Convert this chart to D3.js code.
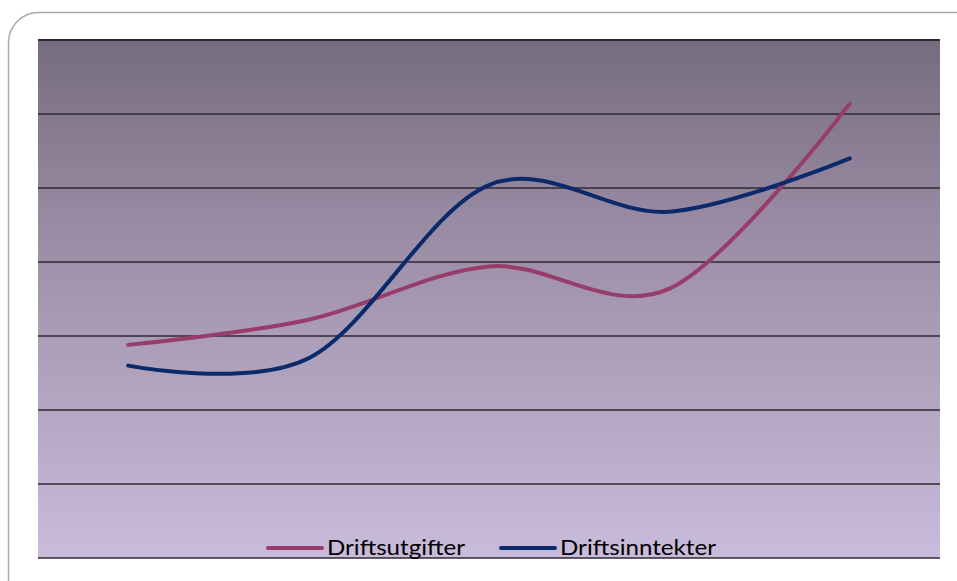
<!DOCTYPE html>
<html><head><meta charset="utf-8">
<script src="https://cdn.jsdelivr.net/npm/d3@7"></script>
<style>html,body{margin:0;padding:0;background:#fff;}svg{display:block;}</style>
</head><body>
<svg id="c" width="957" height="581"></svg>
<script>
const categories = ["1", "2", "3", "4", "5"];
const driftsutgifter = [144, 161, 197, 182, 307];
const driftsinntekter = [130, 135, 252, 234, 270];
const yTicks = [0, 50, 100, 150, 200, 250, 300, 350];
const seriesNames = ["Driftsutgifter", "Driftsinntekter"];
const colors = ["#983c6c", "#0b2a6c"];

const svg = d3.select("#c");
const L = 38, R = 940, T = 40, B = 558;

svg.append("rect").attr("x", 8.5).attr("y", 12.5).attr("width", 980).attr("height", 620)
  .attr("rx", 30).attr("fill", "#fff").attr("stroke", "#a8a8a8").attr("stroke-width", 1.5);

const defs = svg.append("defs");
const g = defs.append("linearGradient").attr("id", "bg").attr("x1", 0).attr("y1", 0).attr("x2", 0).attr("y2", 1);
g.append("stop").attr("offset", "0%").attr("stop-color", "#766c7f");
g.append("stop").attr("offset", "50%").attr("stop-color", "#a697b1");
g.append("stop").attr("offset", "100%").attr("stop-color", "#c9bbdb");

svg.append("rect").attr("x", L).attr("y", T).attr("width", R - L).attr("height", B - T).attr("fill", "url(#bg)");

const x = d3.scaleBand().domain(categories).range([L, R]);
const y = d3.scaleLinear().domain([0, 350]).range([B, T]);

svg.append("g").selectAll("line").data(yTicks).join("line")
  .attr("x1", L).attr("x2", R).attr("y1", d => y(d)).attr("y2", d => y(d))
  .attr("stroke", "#2e2a30").attr("stroke-width", d => d === 350 ? 2 : 1.5);

const line = d3.line().x((d, i) => x(categories[i]) + x.bandwidth() / 2).y(d => y(d))
  .curve(d3.curveCardinal.tension(0));

[driftsutgifter, driftsinntekter].forEach((s, i) => {
  svg.append("path").attr("d", line(s)).attr("fill", "none").attr("stroke", colors[i])
    .attr("stroke-width", 4).attr("stroke-linecap", "round");
});

const leg = [{x1: 268, x2: 322, tx: 327, w: 138}, {x1: 501, x2: 555, tx: 560, w: 156}];
seriesNames.forEach((n, i) => {
  svg.append("line").attr("x1", leg[i].x1).attr("x2", leg[i].x2).attr("y1", 548).attr("y2", 548)
    .attr("stroke", colors[i]).attr("stroke-width", 4).attr("stroke-linecap", "round");
  svg.append("text").attr("x", leg[i].tx).attr("y", 555).text(n)
    .attr("font-family", "Lato, 'Open Sans', sans-serif").attr("font-size", 22).attr("fill", "#000")
    .attr("textLength", leg[i].w).attr("lengthAdjust", "spacingAndGlyphs");
});
</script>
</body></html>
